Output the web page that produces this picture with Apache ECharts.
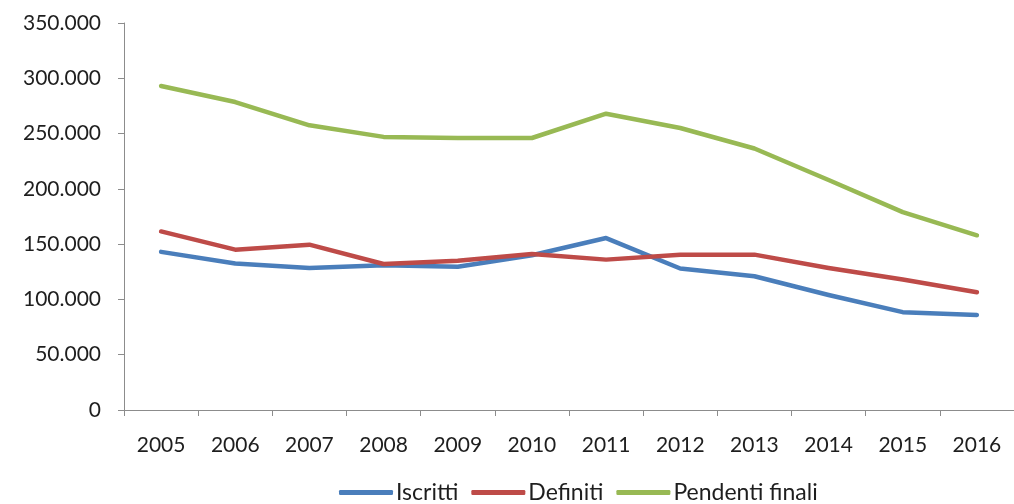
<!DOCTYPE html>
<html>
<head>
<meta charset="utf-8">
<script src="https://cdn.jsdelivr.net/npm/echarts@6/dist/echarts.min.js"></script>
<style>
  html, body { margin: 0; padding: 0; background: #fff; }
  #chart { width: 1014px; height: 504px; }
</style>
</head>
<body>
<div id="chart"></div>
<script>
// Anni
const years = ['2005','2006','2007','2008','2009','2010','2011','2012','2013','2014','2015','2016'];

// Procedimenti per anno
const iscritti = [143000, 132500, 128500, 131000, 129500, 140000, 155500, 128000, 121000, 104000, 88500, 86000];
const definiti = [161500, 145000, 149500, 132000, 135000, 141000, 136000, 140500, 140500, 128500, 118000, 106500];
const pendentiFinali = [293000, 278500, 257500, 247000, 246000, 246000, 268000, 255000, 236500, 208000, 179000, 158000];

// Scala asse verticale
const yMin = 0, yMax = 350000, yStep = 50000;

function itNumber(v) {
  return String(Math.round(v)).replace(/\B(?=(\d{3})+(?!\d))/g, '.');
}

const FONT = 'Lato, "Open Sans", "Liberation Sans", sans-serif';
const chart = echarts.init(document.getElementById('chart'), null, { renderer: 'canvas' });

function lineSeries(name, data, color) {
  return {
    name, type: 'line', data,
    symbol: 'none', smooth: false,
    lineStyle: { color, width: 4.5, cap: 'round', join: 'round' },
    itemStyle: { color },
    emphasis: { disabled: true }
  };
}

chart.setOption({
  animation: false,
  backgroundColor: '#ffffff',
  grid: { left: 124, top: 23, bottom: 94, right: -10 },
  xAxis: {
    type: 'category',
    data: years,
    boundaryGap: true,
    axisLine: { lineStyle: { color: '#8c8c8c', width: 1 } },
    axisTick: { show: true, length: 6, alignWithLabel: false, lineStyle: { color: '#8c8c8c' } },
    axisLabel: { color: '#1e1e1e', fontSize: 21, fontFamily: FONT, margin: 25 },
    splitLine: { show: false }
  },
  yAxis: {
    type: 'value',
    min: yMin, max: yMax, interval: yStep,
    axisLine: { show: true, lineStyle: { color: '#8c8c8c', width: 1 } },
    axisTick: { show: true, length: 6, lineStyle: { color: '#8c8c8c' } },
    axisLabel: { color: '#1e1e1e', fontSize: 21, fontFamily: FONT, margin: 23, formatter: itNumber },
    splitLine: { show: false }
  },
  legend: {
    top: 481,
    left: 339,
    padding: [0, 0, 0, 0],
    icon: 'roundRect',
    itemWidth: 54, itemHeight: 5, itemGap: 13,
    textStyle: { color: '#1e1e1e', fontSize: 23, fontFamily: FONT, padding: [0, 0, 0, -2] },
    data: ['Iscritti', 'Definiti', 'Pendenti finali']
  },
  series: [
    lineSeries('Iscritti', iscritti, '#4a7ebb'),
    lineSeries('Definiti', definiti, '#be4b48'),
    lineSeries('Pendenti finali', pendentiFinali, '#98b954')
  ]
});
</script>
</body>
</html>
